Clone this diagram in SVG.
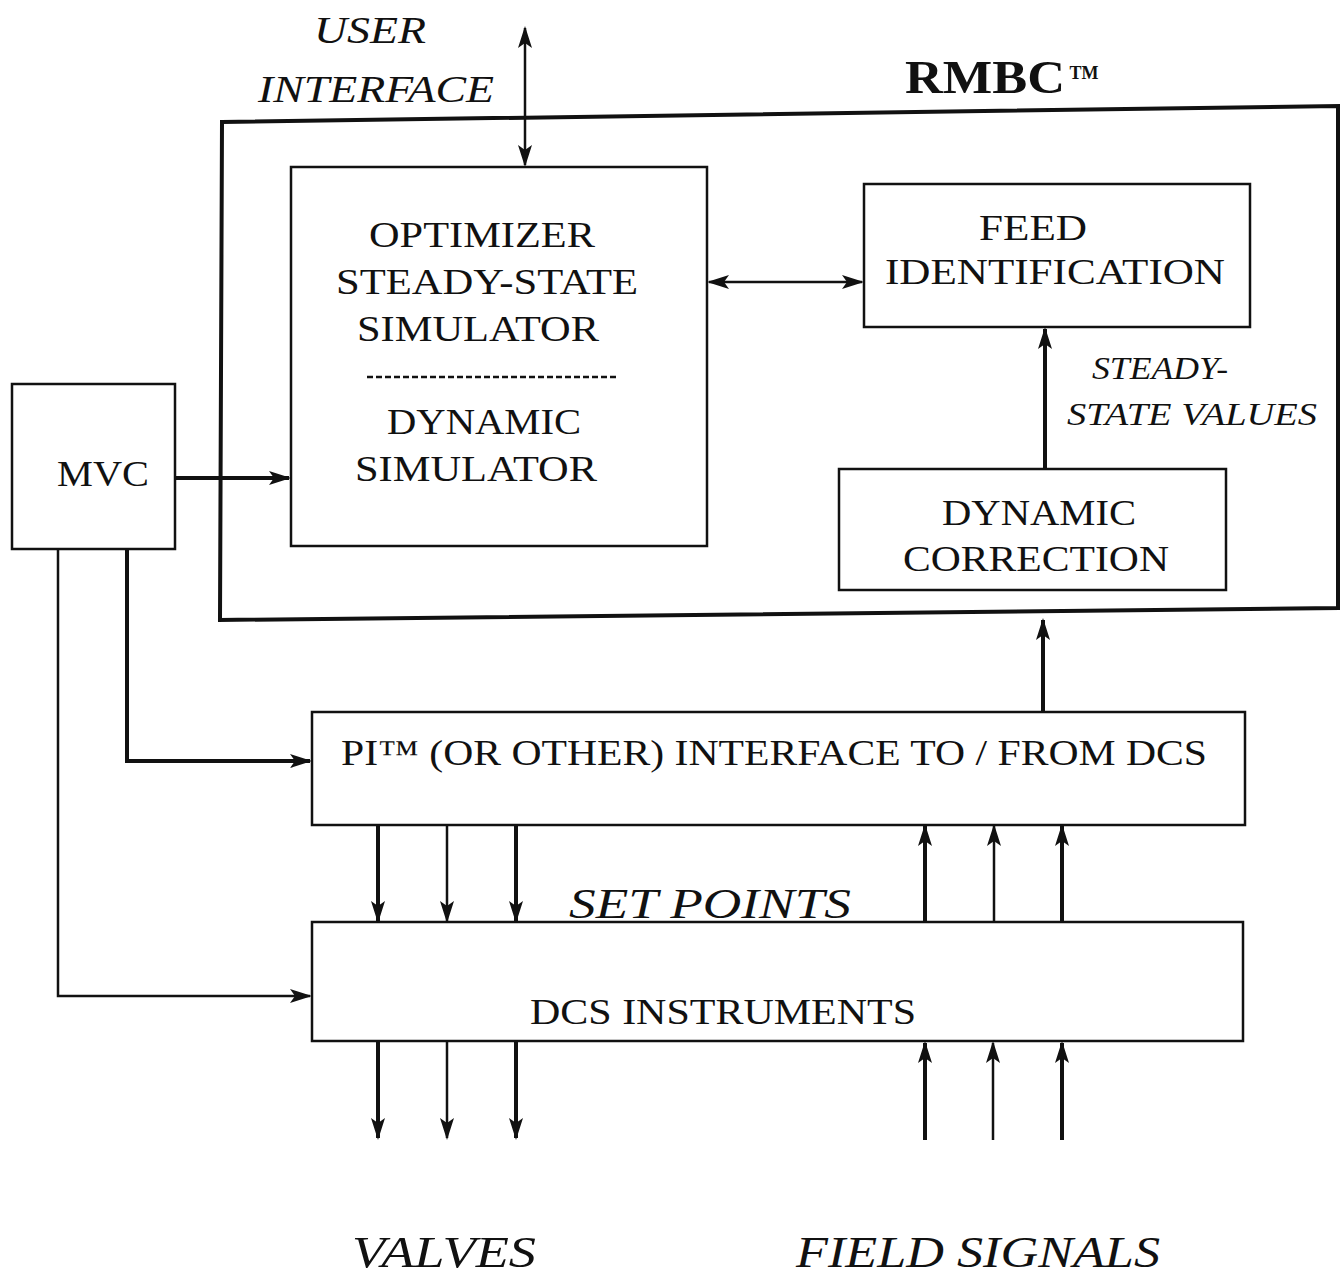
<svg xmlns="http://www.w3.org/2000/svg" width="1342" height="1275" viewBox="0 0 1342 1275">
<style>
.box{fill:none;stroke:#111;stroke-width:2.5}
.t{font-family:"Liberation Serif","DejaVu Serif",serif;fill:#111;text-anchor:middle}
.i{font-style:italic}
.c{fill:none;stroke:#111}
.th{stroke-width:4}
.tn{stroke-width:2.5}
</style>
<defs>
<marker id="ah" markerUnits="userSpaceOnUse" markerWidth="22" markerHeight="18" viewBox="0 0 22 18" refX="20" refY="9" orient="auto-start-reverse"><path d="M0,2 L22,9 L0,16 L5,9 Z" fill="#111"/></marker>
</defs>
<rect width="1342" height="1275" fill="#fff"/>

<g id="rmbc">
<path d="M222,122 L1338,106 L1338,608 L220,620 Z" fill="none" stroke="#111" stroke-width="4"/>
<text class="t" x="985" y="93" font-size="46" font-weight="bold" textLength="160" lengthAdjust="spacingAndGlyphs">RMBC</text>
<text class="t" x="1084" y="79" font-size="18" font-weight="bold">TM</text>
</g>

<g id="user-interface">
<text class="t i" x="370" y="43" font-size="38" textLength="112" lengthAdjust="spacingAndGlyphs">USER</text>
<text class="t i" x="376" y="102" font-size="38" textLength="236" lengthAdjust="spacingAndGlyphs">INTERFACE</text>
</g>

<g id="optimizer">
<rect class="box" x="291" y="167" width="416" height="379"/>
<text class="t" x="482" y="247" font-size="36" textLength="226" lengthAdjust="spacingAndGlyphs">OPTIMIZER</text>
<text class="t" x="487" y="294" font-size="36" textLength="302" lengthAdjust="spacingAndGlyphs">STEADY-STATE</text>
<text class="t" x="478" y="341" font-size="36" textLength="242" lengthAdjust="spacingAndGlyphs">SIMULATOR</text>
<line x1="367" y1="377" x2="616" y2="377" stroke="#111" stroke-width="2.5" stroke-dasharray="6,3"/>
<text class="t" x="484" y="434" font-size="36" textLength="194" lengthAdjust="spacingAndGlyphs">DYNAMIC</text>
<text class="t" x="476" y="481" font-size="36" textLength="242" lengthAdjust="spacingAndGlyphs">SIMULATOR</text>
</g>

<g id="feed">
<rect class="box" x="864" y="184" width="386" height="143"/>
<text class="t" x="1033" y="240" font-size="36" textLength="108" lengthAdjust="spacingAndGlyphs">FEED</text>
<text class="t" x="1055" y="284" font-size="36" textLength="340" lengthAdjust="spacingAndGlyphs">IDENTIFICATION</text>
</g>

<g id="steady-label">
<text class="t i" x="1160" y="379" font-size="31" textLength="136" lengthAdjust="spacingAndGlyphs">STEADY-</text>
<text class="t i" x="1192" y="425" font-size="31" textLength="250" lengthAdjust="spacingAndGlyphs">STATE VALUES</text>
</g>

<g id="dyncorr">
<rect class="box" x="839" y="469" width="387" height="121"/>
<text class="t" x="1039" y="525" font-size="36" textLength="194" lengthAdjust="spacingAndGlyphs">DYNAMIC</text>
<text class="t" x="1036" y="571" font-size="36" textLength="266" lengthAdjust="spacingAndGlyphs">CORRECTION</text>
</g>

<g id="mvc">
<rect class="box" x="12" y="384" width="163" height="165"/>
<text class="t" x="103" y="486" font-size="36" textLength="92" lengthAdjust="spacingAndGlyphs">MVC</text>
</g>

<g id="pi">
<rect class="box" x="312" y="712" width="933" height="113"/>
<text class="t" x="774" y="765" font-size="36" textLength="866" lengthAdjust="spacingAndGlyphs">PI™ (OR OTHER) INTERFACE TO / FROM DCS</text>
</g>

<g id="dcs">
<rect class="box" x="312" y="922" width="931" height="119"/>
<text class="t" x="723" y="1024" font-size="36" textLength="386" lengthAdjust="spacingAndGlyphs">DCS INSTRUMENTS</text>
</g>

<g id="labels">
<text class="t i" x="710" y="918" font-size="42" textLength="282" lengthAdjust="spacingAndGlyphs">SET POINTS</text>
<text class="t i" x="444" y="1267" font-size="44" textLength="184" lengthAdjust="spacingAndGlyphs">VALVES</text>
<text class="t i" x="978" y="1267" font-size="44" textLength="364" lengthAdjust="spacingAndGlyphs">FIELD SIGNALS</text>
</g>

<g id="connectors">
<line class="c tn" x1="525" y1="28" x2="525" y2="165" marker-start="url(#ah)" marker-end="url(#ah)"/>
<line class="c tn" x1="709" y1="282" x2="862" y2="282" marker-start="url(#ah)" marker-end="url(#ah)"/>
<line class="c th" x1="1045" y1="468" x2="1045" y2="329" marker-end="url(#ah)"/>
<line class="c th" x1="175" y1="478" x2="289" y2="478" marker-end="url(#ah)"/>
<polyline class="c th" points="127,549 127,761 310,761" marker-end="url(#ah)"/>
<polyline class="c tn" points="58,549 58,996 310,996" marker-end="url(#ah)"/>
<line class="c th" x1="1043" y1="711" x2="1043" y2="620" marker-end="url(#ah)"/>
<line class="c th" x1="378" y1="826" x2="378" y2="921" marker-end="url(#ah)"/>
<line class="c tn" x1="447" y1="826" x2="447" y2="921" marker-end="url(#ah)"/>
<line class="c th" x1="516" y1="826" x2="516" y2="921" marker-end="url(#ah)"/>
<line class="c th" x1="925" y1="921" x2="925" y2="826" marker-end="url(#ah)"/>
<line class="c tn" x1="994" y1="921" x2="994" y2="826" marker-end="url(#ah)"/>
<line class="c th" x1="1062" y1="921" x2="1062" y2="826" marker-end="url(#ah)"/>
<line class="c th" x1="378" y1="1042" x2="378" y2="1138" marker-end="url(#ah)"/>
<line class="c tn" x1="447" y1="1042" x2="447" y2="1138" marker-end="url(#ah)"/>
<line class="c th" x1="516" y1="1042" x2="516" y2="1138" marker-end="url(#ah)"/>
<line class="c th" x1="925" y1="1140" x2="925" y2="1043" marker-end="url(#ah)"/>
<line class="c tn" x1="993" y1="1140" x2="993" y2="1043" marker-end="url(#ah)"/>
<line class="c th" x1="1062" y1="1140" x2="1062" y2="1043" marker-end="url(#ah)"/>
</g>
</svg>
